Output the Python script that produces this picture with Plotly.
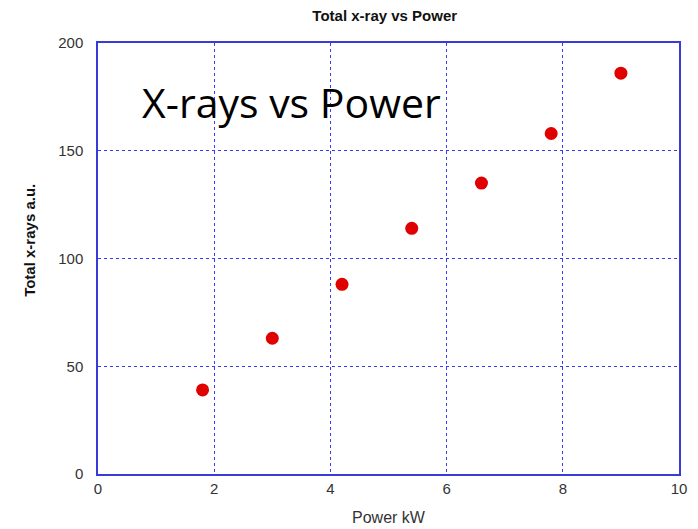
import plotly.graph_objects as go

power_kw = [1.8, 3.0, 4.2, 5.4, 6.6, 7.8, 9.0]
total_xrays = [39, 63, 88, 114, 135, 158, 186]
x_ticks = [0, 2, 4, 6, 8, 10]
y_ticks = [0, 50, 100, 150, 200]

fig = go.Figure()
fig.add_trace(go.Scatter(
    x=power_kw, y=total_xrays, mode="markers",
    marker=dict(color="#e00000", size=13, line=dict(width=0)),
    showlegend=False,
))

axis_common = dict(
    showline=True, linecolor="#3a3ad8", linewidth=1.5, mirror=True,
    showgrid=True, gridcolor="#3a3aff", gridwidth=1, griddash="dot",
    zeroline=False, ticks="", automargin=False,
    tickfont=dict(family="Liberation Sans, Arial", size=15, color="#333"),
)

fig.update_layout(
    width=690, height=521,
    margin=dict(l=90, r=19, t=35, b=55),
    paper_bgcolor="white", plot_bgcolor="white",
    title=dict(text="<b>Total x-ray vs Power</b>", x=0.546, xanchor="center", y=0.986, yanchor="middle",
               font=dict(family="Liberation Sans, Arial", size=15, color="#111")),
    xaxis=dict(range=[0, 10], tickvals=x_ticks, **axis_common,
               title=dict(text="Power kW", font=dict(family="Liberation Sans, Arial", size=16, color="#333"), standoff=16)),
    yaxis=dict(range=[0, 200], tickvals=y_ticks, ticklabelstandoff=10, **axis_common),
    annotations=[
        dict(text="X-rays vs Power", x=0.072, y=0.862, xref="paper", yref="paper",
             xanchor="left", yanchor="middle", showarrow=False,
             font=dict(family="Open Sans", size=41, color="black")),
        dict(text="<b>Total x-rays a.u.</b>", x=-0.117, y=0.541, xref="paper", yref="paper",
             xanchor="center", yanchor="middle", textangle=-90, showarrow=False,
             font=dict(family="Liberation Sans, Arial", size=15, color="#111")),
    ],
)

fig.write_html("out.html")
